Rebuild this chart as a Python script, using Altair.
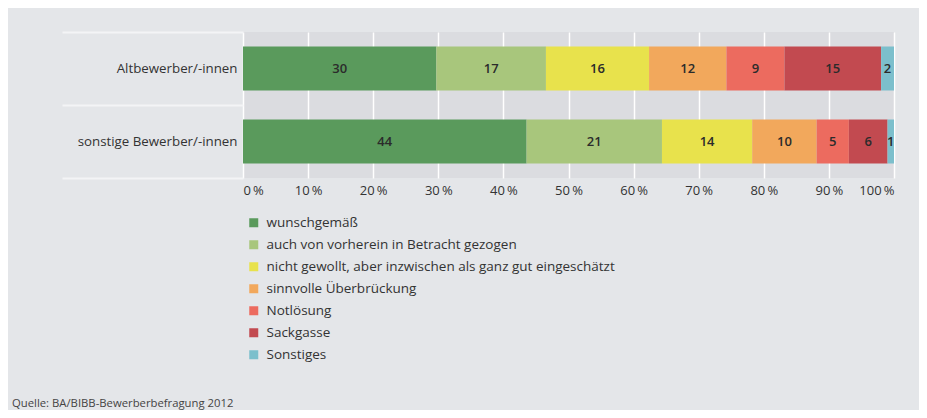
import altair as alt
import pandas as pd

groups = ["Altbewerber/-innen", "sonstige Bewerber/-innen"]
categories = [
    "wunschgemäß",
    "auch von vorherein in Betracht gezogen",
    "nicht gewollt, aber inzwischen als ganz gut eingeschätzt",
    "sinnvolle Überbrückung",
    "Notlösung",
    "Sackgasse",
    "Sonstiges",
]
values_alt = [30, 17, 16, 12, 9, 15, 2]
values_sonst = [44, 21, 14, 10, 5, 6, 1]
colors = ["#5a9a5c", "#a8c67c", "#e8e24c", "#f2a85c", "#ec6b5f", "#c24a50", "#7cbfcc"]
source_note = ["Quelle: BA/BIBB-Bewerberbefragung 2012"]

rows = []
for g, vals in zip(groups, [values_alt, values_sonst]):
    for i, (c, v) in enumerate(zip(categories, vals)):
        rows.append({"group": g, "cat": c, "order": i, "value": v})
df = pd.DataFrame(rows)

FONT = "Open Sans"

base = alt.Chart(df).transform_joinaggregate(
    total="sum(value)", groupby=["group"]
).transform_stack(
    stack="value", groupby=["group"], as_=["v0", "v1"], sort=[alt.SortField("order")]
).transform_calculate(
    x0="datum.v0 / datum.total",
    x1="datum.v1 / datum.total",
    xm="(datum.v0 + datum.v1) / 2 / datum.total",
)

yenc = alt.Y(
    "group:N",
    sort=groups,
    title=None,
    scale=alt.Scale(paddingInner=0, paddingOuter=0),
    axis=alt.Axis(
        domain=False,
        ticks=True,
        tickBand="extent",
        tickSize=181,
        tickWidth=2,
        tickColor="#f3f4f6",
        labelPadding=-175,
        labelFont=FONT,
        labelFontSize=13.3,
        labelColor="#333333",
        grid=False,
    ),
)

bars = base.mark_bar(size=44).encode(
    x=alt.X(
        "x0:Q",
        scale=alt.Scale(domain=[0, 1], nice=False),
        title=None,
        axis=alt.Axis(
            values=[i / 10 for i in range(11)],
            labelExpr="format(datum.value * 100, 'd') + '\u2009%'",
            domain=False,
            ticks=False,
            grid=True,
            gridColor="#ffffff",
            gridWidth=1.5,
            labelFont=FONT,
            labelFontSize=13,
            labelColor="#333333",
            labelPadding=6,
        ),
    ),
    x2="x1:Q",
    y=yenc,
    color=alt.Color(
        "cat:N",
        sort=categories,
        scale=alt.Scale(domain=categories, range=colors),
        legend=alt.Legend(
            title=None,
            orient="none",
            legendX=4,
            legendY=184,
            symbolType="square",
            symbolSize=81,
            symbolStrokeWidth=0,
            symbolOpacity=1,
            labelFont=FONT,
            labelFontSize=13.5,
            labelColor="#333333",
            labelOffset=6,
            labelLimit=0,
            rowPadding=7,
            direction="vertical",
        ),
    ),
)

labels = base.mark_text(font=FONT, fontSize=13, fontWeight=600, color="#2b2b2b").encode(
    x="xm:Q",
    y=alt.Y("group:N", sort=groups),
    text="value:Q",
)

note = alt.Chart(pd.DataFrame({"t": source_note})).mark_text(
    align="left", baseline="middle", font=FONT, fontSize=11.3, color="#444444"
).encode(
    x=alt.value(-231),
    y=alt.value(372),
    text="t:N",
)

chart = (
    alt.layer(bars, labels, note)
    .properties(
        width=651,
        height=146,
        autosize=alt.AutoSizeParams(type="none"),
        padding={"left": 235, "top": 24, "right": 25, "bottom": 232},
        background="#e4e6e9",
    )
    .configure_view(fill="#dbdce0", stroke=None)
)

chart.save("out.html", embed_options={"renderer": "svg", "actions": False})
